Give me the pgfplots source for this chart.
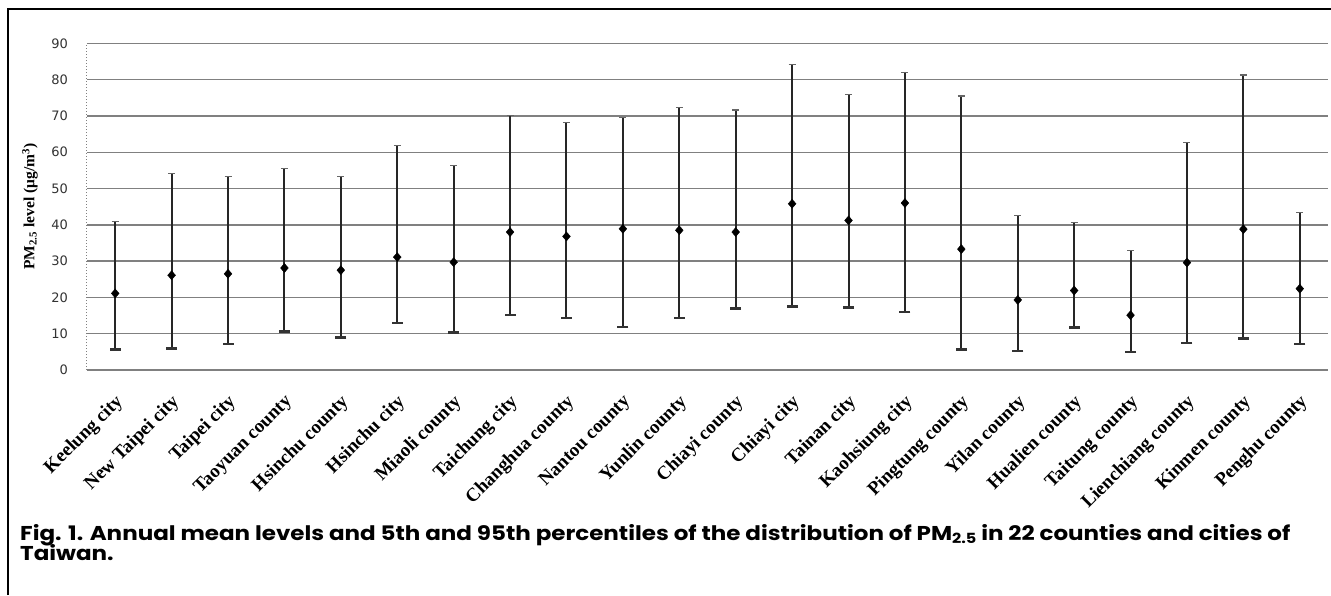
\documentclass[border=0pt]{standalone}
\usepackage{fontspec}
\usepackage{pgfplots}
\usepackage{pgfplotstable}
\pgfplotsset{compat=1.18}
\setmainfont{Liberation Serif}
\newfontfamily\tickfont{DejaVu Sans}
\newfontfamily\capfont[FakeStretch=1.15]{Poppins}

% PM2.5: annual mean, 5th and 95th percentiles (ug/m3)
\pgfplotstableread{
i mean lo hi
0 21.1 5.7 41.0
1 26.1 5.9 54.2
2 26.5 7.2 53.3
3 28.1 10.6 55.6
4 27.5 8.9 53.3
5 31.1 13.0 61.8
6 29.7 10.3 56.3
7 38.0 15.1 70.2
8 36.8 14.4 68.2
9 38.9 11.9 69.5
10 38.5 14.3 72.3
11 38.0 16.9 71.6
12 45.8 17.5 84.2
13 41.2 17.2 75.9
14 46.0 15.9 81.9
15 33.3 5.7 75.5
16 19.3 5.3 42.5
17 21.9 11.7 40.7
18 15.1 4.9 33.0
19 29.6 7.4 62.6
20 38.8 8.7 81.3
21 22.4 7.2 43.3
}\pmdata

\begin{document}
\begin{tikzpicture}[x=1pt,y=1pt]
\useasboundingbox (0,0) rectangle (1331,595);
\fill[white] (0,0) rectangle (1331,595);
\draw[line width=1.4pt] (8,0) -- (8,586) -- (1331,586);

\begin{axis}[
  at={(87pt,225pt)}, anchor=south west,
  scale only axis, width=1241pt, height=326.7pt,
  xmin=-0.5, xmax=21.5, ymin=0, ymax=90,
  ytick={0,10,...,90},
  xtick={0,...,21},
  xticklabels={Keelung city, New Taipei city, Taipei city, Taoyuan county,
    Hsinchu county, Hsinchu city, Miaoli county, Taichung city,
    Changhua county, Nantou county, Yunlin county, Chiayi county,
    Chiayi city, Tainan city, Kaohsiung city, Pingtung county,
    Yilan county, Hualien county, Taitung county, Lienchiang county,
    Kinmen county, Penghu county},
  major tick length=0pt,
  axis line style={draw=none},
  /pgf/number format/assume math mode=true,
  ymajorgrids, grid style={black!50, line width=1.4pt},
  yticklabel style={font=\tickfont\fontsize{13}{13}\selectfont, text=black!80,
    anchor=east, inner sep=0pt, xshift=-19pt},
  xticklabel style={font=\bfseries\fontsize{19}{19}\selectfont,
    anchor=east, inner sep=0pt, xshift=5pt, yshift=-29pt, rotate=45},
  ylabel={PM\textsubscript{2.5} level (μg/m\textsuperscript{3})},
  every axis y label/.style={at={(axis description cs:0,0.5)},
    xshift=-57pt, rotate=90, anchor=center,
    font=\bfseries\fontsize{15.5}{15.5}\selectfont},
  clip=false,
]
\draw[black!50, line width=1pt, dotted] (axis cs:-0.5,0) -- (axis cs:-0.5,90);
% upper whiskers (95th percentile)
\addplot[draw=none, mark=none,
  error bars/.cd, y dir=plus, y explicit,
  error bar style={line width=2pt, black!85},
  error mark=-, error mark options={line width=1.3pt, black!60, mark size=3.5pt, rotate=90}]
  table[x=i, y=mean, y error plus expr=\thisrow{hi}-\thisrow{mean}] {\pmdata};
% lower whiskers (5th percentile) and means
\addplot[draw=none, mark=diamond*, mark size=4.5pt, mark options={fill=black, draw=black, xscale=1.15},
  error bars/.cd, y dir=minus, y explicit,
  error bar style={line width=2pt, black!85},
  error mark=-, error mark options={line width=2.4pt, black!80, mark size=5.5pt, rotate=90}]
  table[x=i, y=mean, y error minus expr=\thisrow{mean}-\thisrow{lo}] {\pmdata};
\end{axis}

\node[anchor=base west, inner sep=0pt, font=\capfont\bfseries\fontsize{20}{20}\selectfont]
  at (20,55) {Fig. 1. Annual mean levels and 5th and 95th percentiles of the distribution of PM\raisebox{-0.3ex}{\fontsize{14}{14}\selectfont 2.5} in 22 counties and cities of};
\node[anchor=base west, inner sep=0pt, font=\capfont\bfseries\fontsize{20}{20}\selectfont]
  at (20,35) {Taiwan.};
\end{tikzpicture}
\end{document}
